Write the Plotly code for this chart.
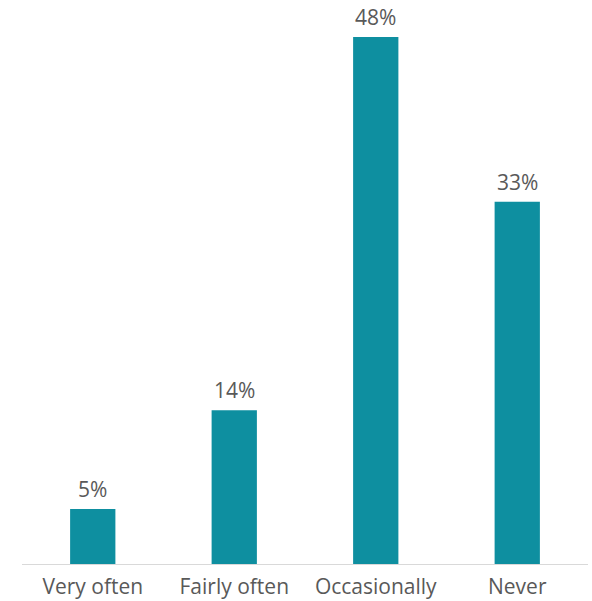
import plotly.graph_objects as go

categories = ["Very often", "Fairly often", "Occasionally", "Never"]
shares = [5, 14, 48, 33]
share_labels = [f"{v}%" for v in shares]

bar_color = "#0E8FA0"
text_color = "#595959"
font_family = "Open Sans, Noto Sans, sans-serif"

fig = go.Figure(
    go.Bar(
        x=categories,
        y=shares,
        marker=dict(color=bar_color, line=dict(width=0)),
        hoverinfo="skip",
    )
)

# value labels sit a little above each bar
for cat, val, lab in zip(categories, shares, share_labels):
    fig.add_annotation(
        x=cat,
        y=val,
        text=lab,
        showarrow=False,
        yanchor="bottom",
        yshift=4,
        font=dict(family=font_family, size=21, color=text_color),
    )

fig.update_layout(
    width=592,
    height=601,
    margin=dict(l=22, r=4, t=15, b=37),
    paper_bgcolor="white",
    plot_bgcolor="white",
    bargap=0.68,
    showlegend=False,
    font=dict(family=font_family, size=21, color=text_color),
    xaxis=dict(
        showline=True,
        linecolor="#D9D9D9",
        linewidth=1,
        ticks="",
        showgrid=False,
        automargin=False,
        ticklabelstandoff=4,
        tickfont=dict(size=21, color=text_color),
    ),
    yaxis=dict(
        range=[0, 50],
        visible=False,
        showgrid=False,
        zeroline=False,
    ),
)

fig.write_html("out.html")
